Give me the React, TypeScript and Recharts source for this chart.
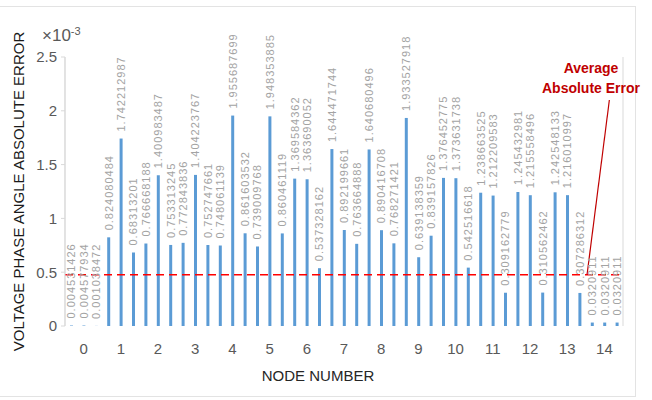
import React from 'react';
import {
  BarChart, Bar, XAxis, YAxis, CartesianGrid,
  ReferenceLine, LabelList,
} from 'recharts';

// node numbers on the x axis, three bars (phases) per node
const nodeLabels = [0, 1, 2, 3, 4, 5, 6, 7, 8, 9, 10, 11, 12, 13, 14];

// absolute error values (x10^-3), one per node
const phaseA = [
  0.004531426, 0.824080484, 0.766668188, 0.772843836, 0.748061139,
  0.739009768, 1.369584362, 1.644471744, 1.640680496, 1.933527918,
  1.376452775, 1.238663525, 1.245432981, 1.242548133, 0.0320911,
];
const phaseB = [
  0.004577934, 1.742212987, 1.400983487, 1.404223767, 1.955687699,
  1.948353885, 1.363690052, 0.892199661, 0.890416708, 0.639138359,
  1.373631738, 1.212209583, 1.215558496, 1.216010997, 0.0320911,
];
const phaseC = [
  0.001038472, 0.68313201, 0.753313245, 0.752747661, 0.861603532,
  0.860461119, 0.537328162, 0.763664888, 0.768271421, 0.839157826,
  0.542516618, 0.309162779, 0.310562462, 0.307286312, 0.0320911,
];

const yTicks = [0, 0.5, 1, 1.5, 2, 2.5];
const averageError = 0.476;

// callout pointer, in data units (slot, error)
const calloutFrom = { x: 43.9, y: 2.1 };
const calloutTo = { x: 42.1, y: averageError };

const FONT = '"Liberation Sans", Arial, sans-serif';
const BAR_COLOR = '#5b9bd5';
const GRID = '#d9d9d9';

const rows = nodeLabels.flatMap((n) => [phaseA[n], phaseB[n], phaseC[n]]);
const data = rows.map((err, i) => ({ slot: i + 0.5, err }));
const slotTicks = [...rows.map((_, i) => i), rows.length];
const nodeTicks = nodeLabels.map((n) => n * 3 + 1.5);

const BarValueLabel = (props: any) => {
  const { x, y, width, value } = props;
  const cx = Number(x) + Number(width) / 2;
  const ty = Number(y) - 7;
  return (
    <text
      x={cx}
      y={ty}
      transform={`rotate(-90 ${cx} ${ty})`}
      textAnchor="start"
      dominantBaseline="central"
      fill="#a3a3a3"
      fontSize={11}
      letterSpacing={1}
      fontFamily={FONT}
    >
      {String(value)}
    </text>
  );
};

export default function App() {
  return (
    <div style={{ position: 'absolute', left: 0, top: 0, width: 652, height: 400, background: '#fff' }}>
      <div
        style={{
          position: 'absolute', left: -1, top: 6, width: 637, height: 391,
          border: '1px solid #e3e3e3', boxSizing: 'border-box',
        }}
      />
      <BarChart
        width={652}
        height={400}
        data={data}
        margin={{ top: 57, right: 29, bottom: 0, left: 35 }}
        style={{ position: 'absolute', left: 0, top: 0 }}
      >
        <CartesianGrid xAxisId="grid" horizontal={false} stroke={GRID} />
        <XAxis
          xAxisId="grid"
          type="number"
          dataKey="slot"
          domain={[0, rows.length]}
          ticks={slotTicks}
          tick={false}
          tickLine={false}
          axisLine={{ stroke: GRID }}
          height={0}
        />
        <XAxis
          xAxisId="nodes"
          type="number"
          dataKey="slot"
          domain={[0, rows.length]}
          ticks={nodeTicks}
          tickFormatter={(v: number) => String((v - 1.5) / 3)}
          tick={{ fill: '#595959', fontSize: 15, fontFamily: FONT }}
          tickLine={false}
          tickMargin={11}
          axisLine={false}
          height={74}
          label={{
            content: ({ viewBox }: any) => (
              <text
                x={viewBox.x + viewBox.width / 2 - 26}
                y={viewBox.y + 49}
                textAnchor="middle"
                dominantBaseline="central"
                fill="#262626"
                fontSize={15}
                fontFamily={FONT}
              >
                NODE NUMBER
              </text>
            ),
          }}
        />
        <YAxis
          domain={[0, 2.5]}
          ticks={yTicks}
          width={30}
          tick={{ fill: '#595959', fontSize: 15, fontFamily: FONT }}
          tickSize={4}
          tickMargin={4}
          tickLine={{ stroke: GRID }}
          axisLine={{ stroke: GRID }}
          label={{
            content: ({ viewBox }: any) => {
              const lx = viewBox.x - 17;
              const ly = viewBox.y + viewBox.height / 2;
              return (
                <text
                  x={lx}
                  y={ly}
                  transform={`rotate(-90 ${lx} ${ly})`}
                  textAnchor="middle"
                  dominantBaseline="central"
                  fill="#1a1a1a"
                  fontSize={15}
                  fontFamily={FONT}
                >
                  VOLTAGE PHASE ANGLE ABSOLUTE ERROR
                </text>
              );
            },
          }}
        />
        <Bar
          xAxisId="nodes"
          dataKey="err"
          fill={BAR_COLOR}
          barSize={3}
          isAnimationActive={false}
        >
          <LabelList dataKey="err" content={BarValueLabel} />
        </Bar>
        <ReferenceLine
          xAxisId="nodes"
          y={averageError}
          stroke="#ff0000"
          strokeWidth={1.5}
          strokeDasharray="8 5"
        />
        <ReferenceLine
          xAxisId="nodes"
          segment={[calloutFrom, calloutTo]}
          stroke="#c00000"
          strokeWidth={1.2}
        />
      </BarChart>
      <div
        style={{
          position: 'absolute', left: 42, top: 26, fontFamily: FONT,
          fontSize: 17, lineHeight: '20px', color: '#595959',
        }}
      >
        ×10<sup style={{ fontSize: 11, verticalAlign: 6, lineHeight: 0 }}>-3</sup>
      </div>
      <div
        style={{
          position: 'absolute', left: 531, top: 58, width: 120, textAlign: 'center',
          fontFamily: FONT, fontWeight: 'bold', fontSize: 14, lineHeight: '20px',
          color: '#c00000',
        }}
      >
        Average<br />Absolute Error
      </div>
    </div>
  );
}
